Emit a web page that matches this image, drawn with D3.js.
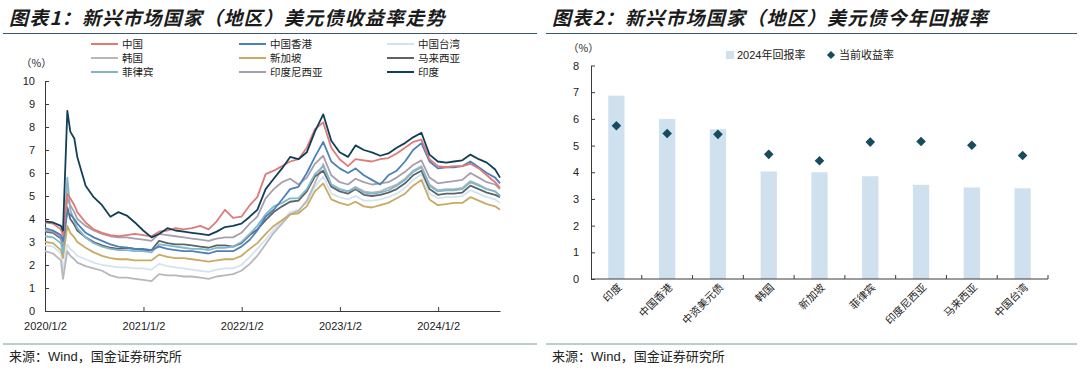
<!DOCTYPE html>
<html>
<head>
<meta charset="utf-8">
<title>新兴市场国家（地区）美元债</title>
<script src="https://cdn.jsdelivr.net/npm/d3@7"></script>
<style>
body{margin:0;background:#fff;}
svg text{font-family:"Liberation Sans",Arial,"Noto Sans CJK SC",sans-serif;fill:#222;}
.cn{font-family:"Noto Sans CJK SC",sans-serif;}
</style>
</head>
<body>
<script>
// ---- 图表1 数据：月度采样（另加2020年3月几个点）----
var dates = ["2020-01-02","2020-02-01","2020-03-01","2020-03-09","2020-03-25","2020-04-05","2020-04-20","2020-05-01",
  "2020-06-01","2020-07-01","2020-08-01","2020-09-01","2020-10-01","2020-11-01","2020-12-01",
  "2021-01-01","2021-02-01","2021-03-01","2021-04-01","2021-05-01","2021-06-01","2021-07-01","2021-08-01","2021-09-01","2021-10-01","2021-11-01","2021-12-01",
  "2022-01-01","2022-02-01","2022-03-01","2022-04-01","2022-05-01","2022-06-01","2022-07-01","2022-08-01","2022-09-01","2022-10-01","2022-11-01","2022-12-01",
  "2023-01-01","2023-02-01","2023-03-01","2023-04-01","2023-05-01","2023-06-01","2023-07-01","2023-08-01","2023-09-01","2023-10-01","2023-11-01","2023-12-01",
  "2024-01-01","2024-02-01","2024-03-01","2024-04-01","2024-05-01","2024-06-01","2024-07-01","2024-08-01","2024-08-19"];

var china = [3.85,3.8,3.55,3.3,5.1,4.9,4.6,4.3, 3.85,3.55,3.4,3.3,3.25,3.3,3.35,
  3.3,3.25,3.45,3.5,3.6,3.55,3.6,3.7,3.55,3.9,4.4,4.05,
  4.1,4.6,4.95,5.95,6.1,6.3,6.5,6.6,7.1,7.9,8.2,7.1,
  6.6,6.3,6.6,6.55,6.5,6.6,6.65,6.85,7.1,7.35,7.45,6.6,
  6.3,6.25,6.3,6.3,6.4,6.2,5.9,5.6,5.35];
var hongkong = [3.6,3.5,3.3,3.05,4.3,4.2,4.0,3.8, 3.4,3.2,3.05,2.9,2.8,2.75,2.7,
  2.7,2.65,2.8,2.7,2.65,2.6,2.6,2.55,2.5,2.6,2.6,2.6,
  2.8,3.1,3.5,4.1,4.4,4.85,5.3,5.4,6.0,6.7,7.35,6.5,
  6.2,6.0,6.2,5.9,5.7,5.5,5.9,6.1,6.5,7.0,7.3,6.5,
  6.2,6.25,6.25,6.3,6.5,6.25,6.0,5.8,5.55];
var taiwan = [2.85,2.8,2.5,1.8,2.9,2.7,2.55,2.4, 2.25,2.1,2.0,1.95,1.9,1.9,1.85,
  1.85,1.8,2.05,1.95,1.9,1.85,1.8,1.75,1.7,1.8,1.85,1.85,
  2.0,2.35,2.7,3.1,3.55,3.9,4.3,4.4,4.7,5.4,5.85,5.1,
  4.95,4.85,5.0,4.8,4.8,4.85,4.95,5.1,5.35,5.7,5.95,5.1,
  4.9,4.95,4.95,5.0,5.25,5.1,4.95,4.85,4.7];
var korea = [2.6,2.5,2.2,1.4,2.6,2.4,2.25,2.1, 1.95,1.85,1.75,1.55,1.45,1.45,1.4,
  1.35,1.3,1.6,1.55,1.55,1.5,1.5,1.45,1.4,1.5,1.55,1.6,
  1.75,2.05,2.4,2.9,3.4,3.8,4.2,4.35,4.8,5.55,6.4,5.5,
  5.3,5.2,5.4,5.2,5.15,5.2,5.35,5.5,5.75,6.1,6.3,5.5,
  5.25,5.3,5.3,5.35,5.65,5.5,5.3,5.2,5.0];
var singapore = [3.0,2.95,2.65,2.3,3.7,3.4,3.2,3.0, 2.75,2.55,2.4,2.3,2.25,2.25,2.2,
  2.2,2.2,2.45,2.35,2.3,2.3,2.25,2.2,2.15,2.2,2.25,2.25,
  2.4,2.7,2.95,3.35,3.7,3.95,4.2,4.25,4.55,5.2,5.55,4.85,
  4.7,4.6,4.75,4.55,4.5,4.6,4.7,4.9,5.1,5.45,5.7,4.85,
  4.6,4.65,4.7,4.7,4.95,4.8,4.65,4.55,4.4];
var malaysia = [3.45,3.4,3.15,2.8,4.5,4.0,3.75,3.5, 3.2,3.0,2.85,2.75,2.7,2.75,2.7,
  2.65,2.65,3.05,2.95,2.9,2.9,2.85,2.8,2.75,2.85,2.85,2.8,
  2.95,3.3,3.55,3.95,4.3,4.55,4.75,4.8,5.2,5.85,6.1,5.4,
  5.2,5.1,5.3,5.05,5.0,5.05,5.15,5.3,5.55,5.9,6.1,5.3,
  5.05,5.1,5.1,5.15,5.45,5.3,5.15,5.05,4.95];
var philippines = [3.25,3.2,2.95,2.5,5.8,4.4,3.9,3.6, 3.2,2.95,2.8,2.7,2.65,2.65,2.6,
  2.6,2.55,2.9,2.85,2.8,2.75,2.7,2.7,2.65,2.75,2.75,2.8,
  3.0,3.35,3.7,4.2,4.55,4.7,4.9,4.9,5.3,5.95,6.3,5.5,
  5.3,5.2,5.35,5.15,5.1,5.15,5.25,5.45,5.7,6.05,6.25,5.45,
  5.2,5.25,5.25,5.3,5.6,5.45,5.3,5.2,5.0];
var indonesia = [3.5,3.45,3.2,2.9,4.9,4.6,4.3,4.0, 3.7,3.5,3.35,3.25,3.2,3.2,3.15,
  3.1,3.05,3.35,3.3,3.25,3.2,3.15,3.1,3.05,3.15,3.2,3.2,
  3.4,3.8,4.1,4.9,5.3,5.6,5.75,5.5,5.8,6.4,6.75,5.9,
  5.6,5.5,5.75,5.6,5.5,5.55,5.6,5.8,6.05,6.35,6.55,5.8,
  5.55,5.6,5.65,5.7,6.0,5.8,5.6,5.5,5.3];
var india = [3.9,3.85,3.7,3.5,8.7,7.8,7.5,6.7, 5.45,4.95,4.6,4.1,4.3,4.15,3.85,
  3.5,3.2,3.35,3.6,3.5,3.45,3.4,3.35,3.3,3.45,3.65,3.7,
  3.8,4.1,4.4,5.3,5.75,6.2,6.7,6.6,6.9,7.8,8.55,7.4,
  6.9,6.7,7.2,7.0,6.9,6.75,6.85,7.1,7.3,7.55,7.75,6.8,
  6.5,6.45,6.5,6.55,6.8,6.6,6.45,6.15,5.8];

var seriesNames = ["中国","中国香港","中国台湾","韩国","新加坡","马来西亚","菲律宾","印度尼西亚","印度"];
var seriesValues = [china,hongkong,taiwan,korea,singapore,malaysia,philippines,indonesia,india];
var seriesColors = ["#e07a78","#4d80b8","#d3e4f1","#b7b7bc","#c9aa62","#5e6368","#80b7c9","#a69fae","#123f58"];
var drawOrder = [2,3,4,5,6,7,1,0,8];

var xTickDates = ["2020-01-02","2021-01-02","2022-01-02","2023-01-02","2024-01-02"];
var xTickLabels = ["2020/1/2","2021/1/2","2022/1/2","2023/1/2","2024/1/2"];
var yTicks1 = [0,1,2,3,4,5,6,7,8,9,10];

// ---- 图表2 数据 ----
var categories = ["印度","中国香港","中资美元债","韩国","新加坡","菲律宾","印度尼西亚","马来西亚","中国台湾"];
var return2024 = [6.87,6.0,5.61,4.03,4.0,3.85,3.53,3.43,3.40];
var currentYield = [5.74,5.45,5.42,4.67,4.43,5.13,5.15,5.01,4.63];
var yTicks2 = [0,1,2,3,4,5,6,7,8];

var W = 1080, H = 373;
var svg = d3.select("body").append("svg").attr("width",W).attr("height",H);
var lineCol = "#3b3b3b";

// 标题和分隔线
function header(x0, x1, title){
  svg.append("text").attr("class","cn").attr("x",x0+9).attr("y",25)
    .attr("font-size",19).attr("font-weight","bold").attr("font-style","italic")
    .attr("letter-spacing",1.2).style("fill","#1b1b1b").text(title);
  svg.append("line").attr("x1",x0+3).attr("x2",x1).attr("y1",33.5).attr("y2",33.5)
    .attr("stroke","#3d5868").attr("stroke-width",1.2);
  svg.append("line").attr("x1",x0+3).attr("x2",x1).attr("y1",344).attr("y2",344)
    .attr("stroke","#7d9898").attr("stroke-width",1);
  var s = svg.append("text").attr("class","cn").attr("x",x0+9).attr("y",361).attr("font-size",13);
  s.append("tspan").text("来源：");
  s.append("tspan").style("font-family","Liberation Sans, Arial").text("Wind");
  s.append("tspan").text("，国金证券研究所");
}
header(0, 537, "图表1：新兴市场国家（地区）美元债收益率走势");
header(543, 1077, "图表2：新兴市场国家（地区）美元债今年回报率");

// ================= 图表1 =================
var parse = d3.timeParse("%Y-%m-%d");
var x1 = d3.scaleTime().domain([parse("2020-01-02"), parse("2024-08-19")]).range([45, 500]);
var y1 = d3.scaleLinear().domain([0,10]).range([311,81]);

var g1 = svg.append("g");
var ax1 = g1.append("g").attr("transform","translate(45,0)")
  .call(d3.axisLeft(y1).tickValues(yTicks1).tickSizeInner(-4).tickSizeOuter(0).tickPadding(10));
var bx1 = g1.append("g").attr("transform","translate(0,311)")
  .call(d3.axisBottom(x1).tickValues(xTickDates.map(parse)).tickSizeInner(-4).tickSizeOuter(0).tickPadding(11)
    .tickFormat(function(d,i){ return xTickLabels[i]; }));
[ax1,bx1].forEach(function(a){
  a.selectAll("path,line").attr("stroke",lineCol);
  a.selectAll("text").attr("font-size",11).style("fill","#222");
});
g1.append("text").attr("class","cn").attr("x",21).attr("y",67).attr("font-size",10.5).text("（%）");

var line1 = d3.line().x(function(d){return x1(d.date);}).y(function(d){return y1(d.v);});
drawOrder.forEach(function(k){
  var pts = dates.map(function(d,i){ return {date:parse(d), v:seriesValues[k][i]}; });
  g1.append("path").datum(pts).attr("d",line1).attr("fill","none")
    .attr("stroke",seriesColors[k]).attr("stroke-width",1.8).attr("stroke-linejoin","round");
});

// 图例
var legX = [91,239,387], legY = [44,58,72];
seriesNames.forEach(function(n,i){
  var cx = legX[i%3], cy = legY[Math.floor(i/3)];
  g1.append("line").attr("x1",cx).attr("x2",cx+27).attr("y1",cy).attr("y2",cy)
    .attr("stroke",seriesColors[i]).attr("stroke-width",2);
  g1.append("text").attr("class","cn").attr("x",cx+31).attr("y",cy+3.5).attr("font-size",10.5).text(n);
});

// ================= 图表2 =================
var x2 = d3.scaleBand().domain(categories).range([591,1048]);
var y2 = d3.scaleLinear().domain([0,8]).range([279,65.5]);
var g2 = svg.append("g");

var ax2 = g2.append("g").attr("transform","translate(591,0)")
  .call(d3.axisLeft(y2).tickValues(yTicks2).tickSizeInner(-4).tickSizeOuter(0).tickPadding(12));
ax2.selectAll("path,line").attr("stroke",lineCol);
ax2.selectAll("text").attr("font-size",11).style("fill","#222");
g2.append("text").attr("class","cn").attr("x",568).attr("y",52).attr("font-size",10.5).text("（%）");

var bw = x2.bandwidth()*0.32;
g2.selectAll("rect.bar").data(return2024).enter().append("rect").attr("class","bar")
  .attr("x",function(d,i){ return x2(categories[i]) + x2.bandwidth()/2 - bw/2; })
  .attr("width",bw)
  .attr("y",function(d){ return y2(d); })
  .attr("height",function(d){ return y2(0)-y2(d); })
  .attr("fill","#cfe0ef");

// x 轴
g2.append("line").attr("x1",591).attr("x2",1048).attr("y1",y2(0)).attr("y2",y2(0)).attr("stroke",lineCol);
categories.forEach(function(c){
  var xe = x2(c) + x2.bandwidth();
  g2.append("line").attr("x1",xe).attr("x2",xe).attr("y1",y2(0)).attr("y2",y2(0)-4).attr("stroke",lineCol);
});
categories.forEach(function(c){
  var cx = x2(c) + x2.bandwidth()/2;
  g2.append("text").attr("class","cn").attr("font-size",10.5)
    .attr("text-anchor","end")
    .attr("transform","translate("+(cx+6)+","+(y2(0)+9)+") rotate(-45)")
    .text(c);
});

var diamond = d3.symbol(d3.symbolSquare, 46);
g2.selectAll("path.pt").data(currentYield).enter().append("path").attr("class","pt")
  .attr("d",diamond)
  .attr("transform",function(d,i){ return "translate("+(x2(categories[i])+x2.bandwidth()/2)+","+y2(d)+") rotate(45)"; })
  .attr("fill","#184a60");

// 图例
g2.append("rect").attr("x",726).attr("y",51).attr("width",8).attr("height",8).attr("fill","#cfe0ef");
g2.append("text").attr("x",737).attr("y",59).attr("font-size",11).text("2024")
  .append("tspan").attr("class","cn").text("年回报率");
g2.append("path").attr("d",diamond).attr("transform","translate(831,55) rotate(45) scale(0.85)").attr("fill","#184a60");
g2.append("text").attr("class","cn").attr("x",839).attr("y",59).attr("font-size",11).text("当前收益率");
</script>
</body>
</html>
